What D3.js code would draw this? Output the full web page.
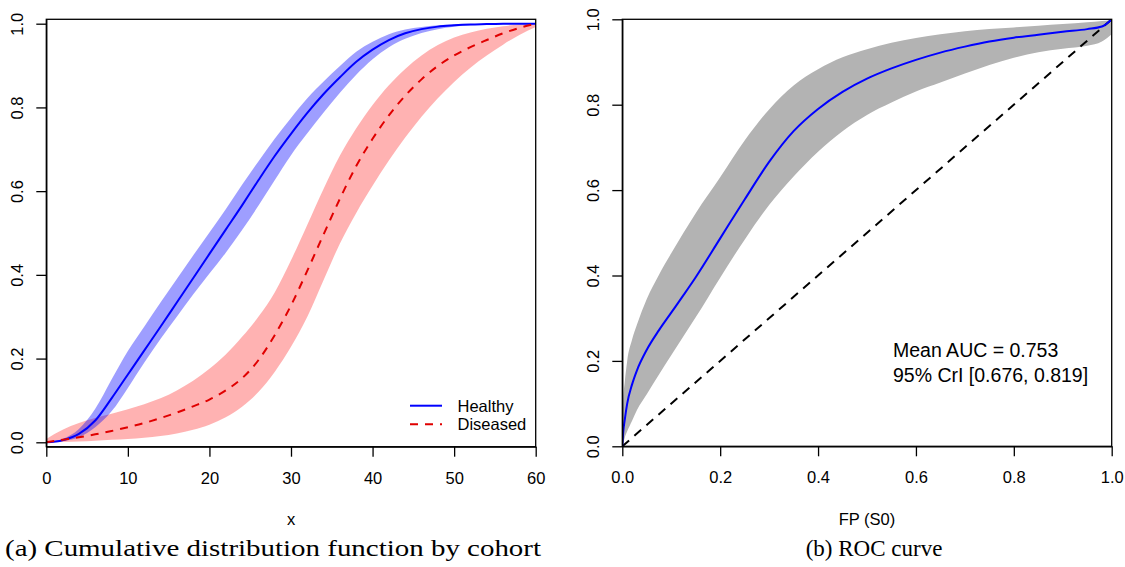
<!DOCTYPE html>
<html>
<head>
<meta charset="utf-8">
<script src="https://cdn.jsdelivr.net/npm/d3@7"></script>
<style>
  html, body { margin: 0; padding: 0; background: #fff; }
  svg { display: block; }
</style>
</head>
<body>
<svg id="fig" width="1125" height="567"></svg>
<script>
// ---- CDF by cohort (panel a) ----
const cdfX = [0, 2, 4, 6, 8, 10, 12, 14, 16, 18, 20, 22, 24, 26, 28, 30,
              32, 34, 36, 38, 40, 42, 44, 46, 48, 50, 52, 54, 56, 58, 60];
const healthyMean  = [0, 0.005, 0.02, 0.052, 0.105, 0.162, 0.219, 0.276, 0.334, 0.392, 0.45, 0.508, 0.566, 0.626, 0.684, 0.737,
                      0.787, 0.832, 0.872, 0.909, 0.938, 0.961, 0.977, 0.987, 0.993, 0.996, 0.998, 0.999, 1, 1, 1];
const healthyUpper = [0, 0.008, 0.032, 0.08, 0.15, 0.218, 0.276, 0.334, 0.39, 0.446, 0.501, 0.557, 0.615, 0.671, 0.725, 0.775,
                      0.822, 0.862, 0.899, 0.933, 0.957, 0.975, 0.986, 0.992, 0.996, 0.998, 0.999, 1, 1, 1, 1];
const healthyLower = [0, 0.003, 0.012, 0.036, 0.074, 0.13, 0.19, 0.247, 0.3, 0.353, 0.403, 0.453, 0.507, 0.565, 0.626, 0.686,
                      0.738, 0.788, 0.835, 0.878, 0.915, 0.944, 0.964, 0.978, 0.987, 0.993, 0.996, 0.998, 0.999, 1, 1];
const diseasedMean  = [0, 0.006, 0.012, 0.019, 0.027, 0.036, 0.046, 0.058, 0.071, 0.086, 0.102, 0.124, 0.153, 0.196, 0.256, 0.327,
                       0.41, 0.497, 0.582, 0.66, 0.725, 0.781, 0.828, 0.867, 0.899, 0.924, 0.944, 0.961, 0.977, 0.99, 1];
const diseasedUpper = [0.008, 0.03, 0.046, 0.058, 0.068, 0.079, 0.091, 0.105, 0.124, 0.147, 0.176, 0.21, 0.252, 0.3, 0.358, 0.435,
                       0.52, 0.606, 0.685, 0.75, 0.806, 0.853, 0.892, 0.924, 0.949, 0.967, 0.979, 0.988, 0.994, 0.998, 1];
const diseasedLower = [0, 0.001, 0.002, 0.004, 0.006, 0.008, 0.011, 0.015, 0.021, 0.03, 0.042, 0.06, 0.085, 0.12, 0.168, 0.228,
                       0.3, 0.388, 0.475, 0.548, 0.613, 0.673, 0.728, 0.778, 0.822, 0.861, 0.895, 0.924, 0.95, 0.973, 0.992];
const cdfXTicks = [0, 10, 20, 30, 40, 50, 60];
const probTicks = [0, 0.2, 0.4, 0.6, 0.8, 1.0];
const legendLabels = ["Healthy", "Diseased"];

// ---- ROC curve (panel b) ----
const rocFP    = [0, 0.002, 0.005, 0.01, 0.02, 0.03, 0.05, 0.075, 0.1, 0.125, 0.15, 0.2, 0.25, 0.3, 0.35, 0.4,
                  0.45, 0.5, 0.55, 0.6, 0.65, 0.7, 0.75, 0.8, 0.85, 0.9, 0.95, 0.98, 1];
const rocMean  = [0, 0.035, 0.062, 0.1, 0.145, 0.178, 0.226, 0.272, 0.313, 0.354, 0.396, 0.487, 0.578, 0.666, 0.738, 0.79,
                  0.83, 0.861, 0.885, 0.905, 0.922, 0.936, 0.948, 0.957, 0.964, 0.971, 0.977, 0.983, 1.0];
const rocUpper = [0, 0.11, 0.15, 0.2, 0.25, 0.285, 0.345, 0.402, 0.452, 0.5, 0.546, 0.63, 0.716, 0.789, 0.845, 0.883,
                  0.911, 0.93, 0.945, 0.956, 0.965, 0.972, 0.977, 0.981, 0.985, 0.989, 0.993, 0.996, 0.998];
const rocLower = [0, 0.008, 0.02, 0.035, 0.06, 0.085, 0.122, 0.168, 0.213, 0.258, 0.302, 0.395, 0.484, 0.565, 0.632, 0.69,
                  0.738, 0.776, 0.805, 0.831, 0.852, 0.873, 0.893, 0.91, 0.923, 0.931, 0.938, 0.948, 0.965];
const rocTicks = [0, 0.2, 0.4, 0.6, 0.8, 1.0];
const aucText = ["Mean AUC = 0.753", "95% CrI [0.676, 0.819]"];
const captions = ["(a) Cumulative distribution function by cohort", "(b) ROC curve"];

const svg = d3.select("#fig");
const SANS = '"Liberation Sans", Arial, Helvetica, sans-serif';
const SERIF = '"Liberation Serif", "Times New Roman", serif';

function band(xs, lo, hi) {
  return xs.map((x, i) => ({ x, lo: lo[i], hi: hi[i] }));
}
function series(xs, ys) {
  return xs.map((x, i) => ({ x, y: ys[i] }));
}

function drawAxes(g, x, y, xTicks, yTicks, xFmt, plot) {
  // bottom axis
  const xa = g.append("g")
    .attr("transform", `translate(0,${plot.bottom})`)
    .call(d3.axisBottom(x).tickValues(xTicks).tickFormat(xFmt).tickSize(10).tickSizeOuter(0));
  xa.select(".domain").attr("stroke", "#000").attr("stroke-width", 1.3);
  xa.selectAll(".tick line").attr("stroke", "#000").attr("stroke-width", 1.3);
  xa.selectAll(".tick text")
    .attr("y", 37).attr("dy", 0)
    .attr("font-size", 16.5).attr("font-family", SANS).attr("fill", "#000");

  // left axis with labels turned parallel to the axis
  const ya = g.append("g")
    .attr("transform", `translate(${plot.left},0)`)
    .call(d3.axisLeft(y).tickValues(yTicks).tickFormat(d3.format(".1f")).tickSize(10).tickSizeOuter(0));
  ya.select(".domain").attr("stroke", "#000").attr("stroke-width", 1.3);
  ya.selectAll(".tick line").attr("stroke", "#000").attr("stroke-width", 1.3);
  ya.selectAll(".tick text")
    .attr("x", 0).attr("y", -23).attr("dy", 0)
    .attr("transform", "rotate(-90)")
    .attr("text-anchor", "middle")
    .attr("font-size", 16.5).attr("font-family", SANS).attr("fill", "#000");
}

// ================= Panel (a) =================
{
  const plot = { left: 46.3, right: 535.7, top: 19.3, bottom: 446.7 };
  const x = d3.scaleLinear().domain([0, 60]).range([plot.left, plot.right]);
  const y = d3.scaleLinear().domain([-0.0105, 1.0105]).range([plot.bottom, plot.top]);
  const g = svg.append("g");

  g.append("clipPath").attr("id", "clipA")
    .append("rect").attr("x", plot.left).attr("y", plot.top)
    .attr("width", plot.right - plot.left).attr("height", plot.bottom - plot.top);
  const inner = g.append("g").attr("clip-path", "url(#clipA)");

  const area = d3.area().x(d => x(d.x)).y0(d => y(d.lo)).y1(d => y(d.hi)).curve(d3.curveMonotoneX);
  const line = d3.line().x(d => x(d.x)).y(d => y(d.y)).curve(d3.curveMonotoneX);

  inner.append("path").attr("d", area(band(cdfX, diseasedLower, diseasedUpper)))
    .attr("fill", "#ff0000").attr("fill-opacity", 0.3).attr("stroke", "none");
  inner.append("path").attr("d", area(band(cdfX, healthyLower, healthyUpper)))
    .attr("fill", "#0000ff").attr("fill-opacity", 0.38).attr("stroke", "none");

  inner.append("path").attr("d", line(series(cdfX, healthyMean)))
    .attr("fill", "none").attr("stroke", "#0000ff").attr("stroke-width", 2);
  inner.append("path").attr("d", line(series(cdfX, diseasedMean)))
    .attr("fill", "none").attr("stroke", "#e00000").attr("stroke-width", 2)
    .attr("stroke-dasharray", "8,7");

  g.append("rect").attr("x", plot.left).attr("y", plot.top)
    .attr("width", plot.right - plot.left).attr("height", plot.bottom - plot.top)
    .attr("fill", "none").attr("stroke", "#000").attr("stroke-width", 1.3);

  drawAxes(g, x, y, cdfXTicks, probTicks, d3.format("d"), plot);

  // legend
  const leg = g.append("g");
  const legStyles = [{ c: "#0000ff", dash: null }, { c: "#e00000", dash: "8,7" }];
  legendLabels.forEach((lab, i) => {
    const yy = 405.7 + i * 18.5;
    leg.append("line").attr("x1", 410).attr("x2", 442).attr("y1", yy).attr("y2", yy)
      .attr("stroke", legStyles[i].c).attr("stroke-width", 2)
      .attr("stroke-dasharray", legStyles[i].dash);
    leg.append("text").attr("x", 457.5).attr("y", yy + 6)
      .attr("font-family", SANS).attr("font-size", 16.5).text(lab);
  });

  g.append("text").attr("x", (plot.left + plot.right) / 2).attr("y", 525)
    .attr("text-anchor", "middle").attr("font-family", SANS).attr("font-size", 16.5).text("x");

  g.append("text").attr("x", 273).attr("y", 556)
    .attr("text-anchor", "middle").attr("font-family", SERIF).attr("font-size", 23)
    .attr("textLength", 536).attr("lengthAdjust", "spacingAndGlyphs")
    .text(captions[0]);
}

// ================= Panel (b) =================
{
  const plot = { left: 622.3, right: 1111.7, top: 19.3, bottom: 446.3 };
  const x = d3.scaleLinear().domain([0, 1]).range([plot.left, plot.right]);
  const y = d3.scaleLinear().domain([0, 1]).range([plot.bottom, plot.top]);
  const g = svg.append("g");

  g.append("clipPath").attr("id", "clipB")
    .append("rect").attr("x", plot.left).attr("y", plot.top)
    .attr("width", plot.right - plot.left).attr("height", plot.bottom - plot.top);
  const inner = g.append("g").attr("clip-path", "url(#clipB)");

  const area = d3.area().x(d => x(d.x)).y0(d => y(d.lo)).y1(d => y(d.hi)).curve(d3.curveMonotoneX);
  const line = d3.line().x(d => x(d.x)).y(d => y(d.y)).curve(d3.curveMonotoneX);

  inner.append("path").attr("d", area(band(rocFP, rocLower, rocUpper)))
    .attr("fill", "#b3b3b3").attr("stroke", "none");
  inner.append("path").attr("d", line(series([0, 1], [0, 1])))
    .attr("fill", "none").attr("stroke", "#000").attr("stroke-width", 2)
    .attr("stroke-dasharray", "9,7");
  inner.append("path").attr("d", line(series(rocFP, rocMean)))
    .attr("fill", "none").attr("stroke", "#0000ff").attr("stroke-width", 2);

  g.append("rect").attr("x", plot.left).attr("y", plot.top)
    .attr("width", plot.right - plot.left).attr("height", plot.bottom - plot.top)
    .attr("fill", "none").attr("stroke", "#000").attr("stroke-width", 1.3);

  drawAxes(g, x, y, rocTicks, rocTicks, d3.format(".1f"), plot);

  aucText.forEach((t, i) => {
    g.append("text").attr("x", 893).attr("y", 357 + i * 25)
      .attr("font-family", SANS).attr("font-size", 19.5).text(t);
  });

  g.append("text").attr("x", (plot.left + plot.right) / 2).attr("y", 525)
    .attr("text-anchor", "middle").attr("font-family", SANS).attr("font-size", 16.5).text("FP (S0)");

  g.append("text").attr("x", 874).attr("y", 556)
    .attr("text-anchor", "middle").attr("font-family", SERIF).attr("font-size", 23)
    .text(captions[1]);
}
</script>
</body>
</html>
